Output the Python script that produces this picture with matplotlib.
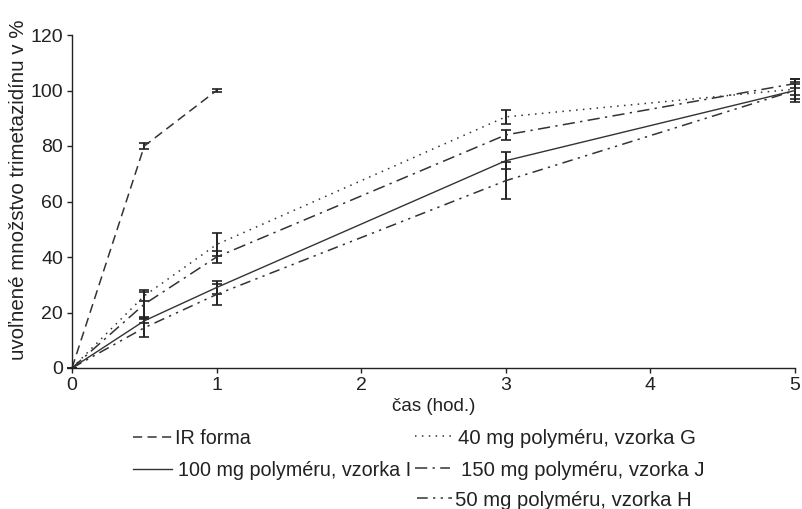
import numpy as np
import matplotlib
matplotlib.use("Agg")
import matplotlib.pyplot as plt

plt.rcParams['font.family'] = ['Liberation Sans', 'DejaVu Sans']

# data (odčítané z grafu)
cas = [0, 0.5, 1, 3, 5]
cas_ir = [0, 0.5, 1]

ir_forma = [0, 80, 100]
ir_err = [0, 1, 0.5]

vzorka_g = [0, 26, 44.5, 90.5, 100.5]
g_err = [0, 2, 4.2, 2.6, 2]
vzorka_j = [0, 23, 40, 84, 102.5]
j_err = [0, 4.5, 2, 1.7, 1.5]
vzorka_i = [0, 17, 29, 74.7, 100]
i_err = [0, 0.8, 2.5, 3, 3]
vzorka_h = [0, 14.5, 26.5, 67.5, 100]
h_err = [0, 3.5, 3.7, 6.6, 4]

labels = ["IR forma", "40 mg polyméru, vzorka G", "100 mg polyméru, vzorka I",
          "150 mg polyméru, vzorka J", "50 mg polyméru, vzorka H"]

W, H = 802, 509
fig = plt.figure(figsize=(W / 100, H / 100), dpi=100)
ax = fig.add_axes([72 / W, 1 - 368 / H, (795 - 72) / W, (368 - 35) / H])

col = '#333333'
ekw = dict(ecolor='#222222', elinewidth=1.4, capsize=3.5, capthick=1.2, clip_on=False)

e_ir = ax.errorbar(cas_ir, ir_forma, yerr=ir_err, color=col, lw=1.1,
                   ls=(0, (6, 3.5)), **ekw)
e_g = ax.errorbar(cas, vzorka_g, yerr=g_err, color=col, lw=1.1,
                  ls=(0, (1, 3.5)), **ekw)
e_i = ax.errorbar(cas, vzorka_i, yerr=i_err, color=col, lw=1.0, ls='-', **ekw)
e_j = ax.errorbar(cas, vzorka_j, yerr=j_err, color=col, lw=1.1,
                  ls=(0, (8, 3.5, 1.5, 3.5)), **ekw)
e_h = ax.errorbar(cas, vzorka_h, yerr=h_err, color=col, lw=1.1,
                  ls=(0, (7, 3.5, 1.5, 3.5, 1.5, 3.5)), **ekw)
for e in (e_ir, e_g, e_i, e_j, e_h):
    e.lines[0].set_clip_on(False)

ax.set_xlim(0, 5)
ax.set_ylim(0, 120)
ax.set_xticks([0, 1, 2, 3, 4, 5])
ax.set_yticks([0, 20, 40, 60, 80, 100, 120])
for s in ['top', 'right']:
    ax.spines[s].set_visible(False)
for s in ['left', 'bottom']:
    ax.spines[s].set_color('#222222')
    ax.spines[s].set_linewidth(1.0)
ax.tick_params(direction='out', length=3.5, width=1, colors='#222222',
               labelsize=14, pad=3)
ax.set_xlabel("čas (hod.)", fontsize=13.5, labelpad=3, color='#222222')
ax.set_ylabel("uvoľnené množstvo trimetazidínu v %", fontsize=14.8,
              color='#222222')
ax.yaxis.set_label_coords(-0.061, 0.535)

# legenda pod grafom - každá položka zvlášť
def polozka(e, text, x0, y, hl, pad, fs=14.2):
    fig.legend(handles=[e.lines[0]], labels=[text], loc='center left',
               bbox_to_anchor=(x0 / W, 1 - y / H), frameon=False,
               borderpad=0, borderaxespad=0, handlelength=hl,
               handletextpad=pad, fontsize=fs, labelcolor='#222222')

polozka(e_ir, labels[0], 133, 438, 2.0, 0.12)
polozka(e_g, labels[1], 415, 438, 1.95, 0.18, 14.6)
polozka(e_i, labels[2], 133, 470, 2.0, 0.3)
polozka(e_j, labels[3], 415, 470, 1.75, 0.5, 14.6)
polozka(e_h, labels[4], 417, 500, 1.75, 0.12, 14.6)

fig.savefig("out.png", dpi=100)
